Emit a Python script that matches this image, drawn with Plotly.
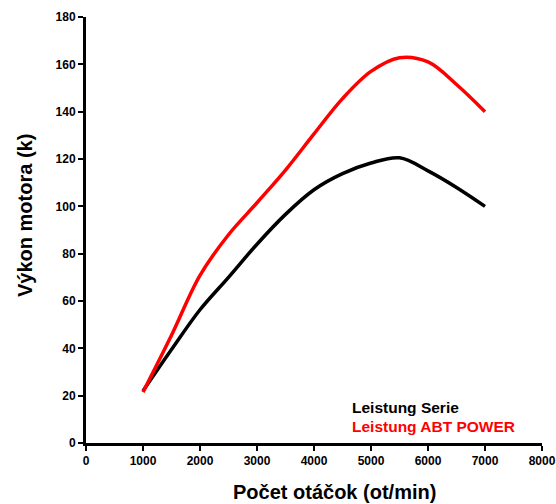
import plotly.graph_objects as go

rpm = [1000, 1500, 2000, 2500, 3000, 3500, 4000, 4500, 5000, 5500, 6000, 6500, 7000]
serie = [22, 39.5, 56.3, 70, 84, 96.6, 107, 113.8, 118.3, 120.5, 115, 108, 100]
abt = [21.5, 45.5, 70.8, 88, 101.5, 115.3, 130.6, 145.5, 157, 162.8, 161, 151.5, 140]

x_ticks = [0, 1000, 2000, 3000, 4000, 5000, 6000, 7000, 8000]
y_ticks = [0, 20, 40, 60, 80, 100, 120, 140, 160, 180]

FONT = "Liberation Sans, Arial"

fig = go.Figure()
fig.add_trace(go.Scatter(x=rpm, y=serie, mode="lines", name="Leistung Serie",
                         line=dict(color="black", width=3.5, shape="spline", smoothing=1.0)))
fig.add_trace(go.Scatter(x=rpm, y=abt, mode="lines", name="Leistung ABT POWER",
                         line=dict(color="#ff0000", width=3.5, shape="spline", smoothing=1.0)))

axis_common = dict(showgrid=False, zeroline=False, showline=True, linecolor="black", linewidth=3,
                   ticks="outside", ticklen=5, tickwidth=2, tickcolor="black", automargin=False,
                   tickfont=dict(family=FONT, size=12, color="black", weight="bold"))

fig.update_xaxes(range=[0, 8000], tickvals=x_ticks, **axis_common)
fig.update_yaxes(range=[0, 180], tickvals=y_ticks, **axis_common)

# axis titles
fig.add_annotation(x=0.546, y=-0.115, xref="paper", yref="paper", text="Počet otáčok (ot/min)",
                   showarrow=False, xanchor="center", yanchor="middle",
                   font=dict(family=FONT, size=20, color="black", weight="bold"))
fig.add_annotation(x=-0.134, y=0.535, xref="paper", yref="paper", text="Výkon motora (k)",
                   showarrow=False, textangle=-90, xanchor="center", yanchor="middle",
                   font=dict(family=FONT, size=20, color="black", weight="bold"))

# legend texts
fig.add_annotation(x=4630, y=14.8, xref="x", yref="y", text="Leistung Serie", showarrow=False,
                   xanchor="left", yanchor="middle",
                   font=dict(family=FONT, size=15.5, color="black", weight="bold"))
fig.add_annotation(x=4630, y=7.0, xref="x", yref="y", text="Leistung ABT POWER", showarrow=False,
                   xanchor="left", yanchor="middle",
                   font=dict(family=FONT, size=15.5, color="#ff0000", weight="bold"))

fig.update_layout(width=556, height=504, showlegend=False,
                  margin=dict(l=86, r=14, t=17, b=61, autoexpand=False),
                  paper_bgcolor="white", plot_bgcolor="white")

fig.write_html("out.html", config={"displayModeBar": False},
               post_script="document.body.style.margin='0px';document.body.style.overflow='hidden';")
